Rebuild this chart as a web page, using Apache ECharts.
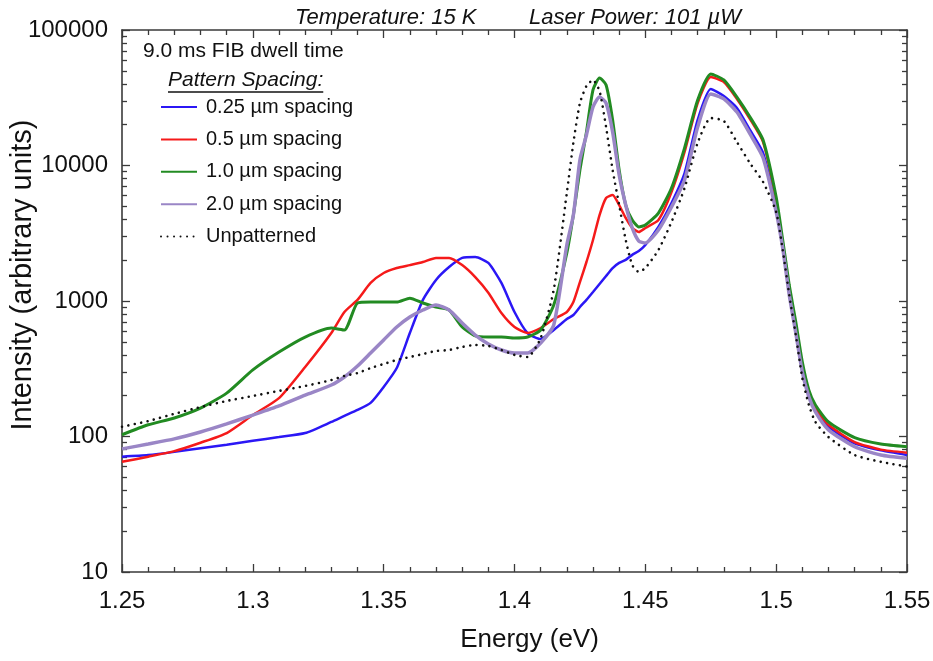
<!DOCTYPE html>
<html><head><meta charset="utf-8">
<script src="https://cdn.jsdelivr.net/npm/echarts@6/dist/echarts.min.js"></script>
<style>html,body{margin:0;padding:0;background:#fff}#c{width:933px;height:661px}</style>
</head><body><div id="c"></div>
<script>
// ---- data ----
const energy = [1.25,1.26,1.27,1.28,1.29,1.30,1.31,1.32,1.33,
  1.335,1.34,1.345,1.35,1.355,1.36,1.365,1.37,1.375,1.38,1.385,1.39,1.395,1.40,1.405,1.41,1.415,1.42,
  1.4225,1.425,1.4275,1.43,1.4325,1.435,1.4375,1.44,1.4425,1.445,1.4475,1.45,
  1.455,1.46,1.465,1.47,1.475,1.48,1.485,1.49,1.495,1.50,
  1.5025,1.505,1.5075,1.51,1.5125,1.515,
  1.52,1.53,1.54,1.55];
const spacing025 = [71,73,77,82,87,93,99,106,128,
  142,157,177,232,320,580,1020,1430,1780,2080,2110,1910,1360,830,580,524,611,736,
  788,903,1020,1165,1335,1530,1750,1910,2010,2190,2340,2590,
  3520,5290,8800,21700,36700,32600,26600,18300,12400,4940,
  2590,1170,611,310,202,157,
  118,89,79,73];
const spacing05 = [65,71,78,90,106,144,192,326,581,
  830,1020,1360,1610,1750,1840,1940,2080,2080,1840,1500,1150,815,643,581,632,736,830,
  983,1380,1940,2820,4310,5760,6060,5110,4100,3460,3230,3460,
  3960,6370,12600,28900,45000,41300,31000,22000,14900,5560,
  2590,1210,632,326,209,162,
  122,91,80,76];
const spacing10 = [103,122,137,162,209,310,420,542,632,
  611,967,983,983,983,1050,967,903,858,643,552,542,542,533,542,611,934,2260,
  4310,9270,17700,36100,44200,39300,21700,9270,5110,3960,3520,3640,
  4460,6820,13500,30400,47400,42800,32000,22800,15400,5850,
  2820,1310,700,354,220,171,
  128,98,88,84];
const spacing20 = [81,88,96,108,124,144,168,202,240,
  275,331,413,516,643,762,858,934,858,688,561,482,435,413,413,490,665,2590,
  4310,10980,16800,27000,32000,28900,17700,8510,5110,3460,2770,2680,
  3340,4940,7820,19200,33700,31000,24800,17100,11400,4540,
  2460,1110,581,299,196,152,
  112,84,73,69];
const unpatterned = [118,130,147,165,183,199,217,236,261,
  280,294,320,343,367,386,406,428,435,458,474,466,435,400,386,533,1210,6270,
  14700,28900,38600,42800,35500,19200,9270,5110,2820,1840,1640,1750,
  2380,3830,6820,14700,22400,21300,14900,10400,7560,4540,
  2380,1110,561,270,171,128,
  99,73,65,60];
const seriesNames = ['0.25 µm spacing','0.5 µm spacing','1.0 µm spacing','2.0 µm spacing','Unpatterned'];
const seriesValues = [spacing025, spacing05, spacing10, spacing20, unpatterned];
const yMinorTicks = [20,30,40,50,60,70,80,90,200,300,400,500,600,700,800,900,
  2000,3000,4000,5000,6000,7000,8000,9000,20000,30000,40000,50000,60000,70000,80000,90000];
const titleLeft = 'Temperature: 15 K';
const titleRight = 'Laser Power: 101 µW';
const headerText = '9.0 ms FIB dwell time';
const legendHeader = 'Pattern Spacing:';

// ---- styling ----
const FONT = '"Liberation Sans", Arial, Helvetica, sans-serif';
const AX = '#3a3a3a';
const colors = ['#2b17f5','#f51a1a','#228b22','#9a86c6','#111111'];
const widths = [2.5,2.5,3,3.5,2.6];

const chart = echarts.init(document.getElementById('c'), null, {renderer:'canvas'});

const mk = (vals) => energy.map((e,i)=>[e, vals[i]]);
const series = seriesNames.map((n,i)=>({
  name:n, type:'line', xAxisIndex:0, yAxisIndex:0,
  data: mk(seriesValues[i]), showSymbol:false, symbol:'none', smooth:0.2,
  lineStyle:{color:colors[i], width:widths[i], type: i===4 ? [0.01,6.5] : 'solid', cap: i===4?'round':'butt'},
  itemStyle:{color:colors[i]}, z: [3,4,5,6,7][i], animation:false
}));

// measure header width for underline
const cv = document.createElement('canvas').getContext('2d');
cv.font = 'italic 21px ' + FONT;
const hdrW = cv.measureText(legendHeader).width;

const tickBase = {show:true, inside:true, length:8, lineStyle:{color:AX, width:1.3}};
const minorBase = {show:true, splitNumber:5, length:5, lineStyle:{color:AX, width:1.3}};
const lineBase = {show:true, onZero:false, lineStyle:{color:AX, width:1.6}};

const option = {
  animation:false,
  backgroundColor:'#fff',
  title:[
    {text:titleLeft, left:290, top:2, textStyle:{fontFamily:FONT, fontStyle:'italic', fontWeight:'normal', fontSize:22, color:'#111'}},
    {text:titleRight, left:524, top:2, textStyle:{fontFamily:FONT, fontStyle:'italic', fontWeight:'normal', fontSize:22, color:'#111'}}
  ],
  grid:{left:122, right:26, top:30, bottom:89, outerBoundsMode:'none', containLabel:false},
  legend:{
    data:seriesNames, orient:'vertical', left:155, top:92,
    itemWidth:36, itemHeight:14, itemGap:12.4,
    itemStyle:{opacity:0},
    textStyle:{fontFamily:FONT, fontSize:20, color:'#111', lineHeight:20, padding:[0,0,0,4]},
    selectedMode:false
  },
  xAxis:[
    {type:'value', position:'bottom', min:1.25, max:1.55, interval:0.05,
     axisLine:lineBase, axisTick:tickBase, minorTick:minorBase,
     splitLine:{show:false}, minorSplitLine:{show:false},
     axisLabel:{fontFamily:FONT, fontSize:24, color:'#111', margin:17,
       formatter:v=>String(+(+v).toFixed(2))},
     name:'Energy (eV)', nameLocation:'middle', nameGap:55, nameMoveOverlap:false,
     nameTextStyle:{fontFamily:FONT, fontSize:26, color:'#111', padding:[0,0,0,30]}},
    {type:'value', position:'top', min:1.25, max:1.55, interval:0.05,
     axisLine:lineBase, axisTick:tickBase, minorTick:minorBase,
     splitLine:{show:false}, minorSplitLine:{show:false}, axisLabel:{show:false}}
  ],
  yAxis:[
    {type:'log', logBase:10, position:'left', min:10, max:100000,
     axisLine:lineBase, axisTick:tickBase, splitLine:{show:false},
     axisLabel:{fontFamily:FONT, fontSize:24, color:'#111', margin:14,
       formatter:v=>String(Math.round(v))},
     name:'Intensity (arbitrary units)', nameLocation:'middle', nameGap:85, nameRotate:90,
     nameMoveOverlap:false,
     nameTextStyle:{fontFamily:FONT, fontSize:29, color:'#111', padding:[0,0,0,52]}},
    {type:'log', logBase:10, position:'right', min:10, max:100000,
     axisLine:lineBase, axisTick:tickBase, splitLine:{show:false}, axisLabel:{show:false}},
    {type:'value', position:'left', min:1, max:5,
     axisLine:{show:false}, splitLine:{show:false}, axisLabel:{show:false},
     axisTick:{show:true, inside:true, length:5, lineStyle:{color:AX, width:1.3},
       customValues: yMinorTicks.map(v=>Math.log10(v))}},
    {type:'value', position:'right', min:1, max:5,
     axisLine:{show:false}, splitLine:{show:false}, axisLabel:{show:false},
     axisTick:{show:true, inside:true, length:5, lineStyle:{color:AX, width:1.3},
       customValues: yMinorTicks.map(v=>Math.log10(v))}}
  ],
  graphic:[
    {type:'text', left:143, top:41, style:{text:headerText, fontFamily:FONT, fontSize:21, fill:'#111'}},
    {type:'text', left:168, top:70, style:{text:legendHeader, fontFamily:FONT, fontSize:21, fontStyle:'italic', fill:'#111'}},
    {type:'line', shape:{x1:168, y1:92, x2:168+hdrW, y2:92}, style:{stroke:'#111', lineWidth:1.3}}
  ],
  series: series
};
chart.setOption(option);
</script>
</body></html>
